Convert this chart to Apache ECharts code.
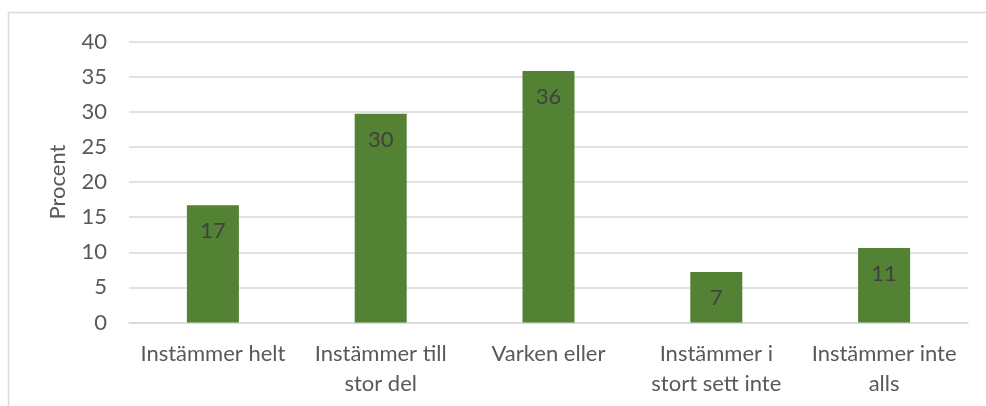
<!DOCTYPE html>
<html>
<head>
<meta charset="utf-8">
<script src="https://cdn.jsdelivr.net/npm/echarts@6/dist/echarts.min.js"></script>
<style>
  html, body { margin: 0; padding: 0; background: #fff; }
  #chart { width: 986px; height: 406px; }
</style>
</head>
<body>
<div id="chart"></div>
<script>
const categories = ['Instämmer helt', 'Instämmer till\nstor del', 'Varken eller', 'Instämmer i\nstort sett inte', 'Instämmer inte\nalls']
const values = [16.7, 29.7, 35.8, 7.2, 10.6]
const axisName = 'Procent'

const myChart = echarts.init(document.getElementById('chart'))
const font = 'Lato, "Liberation Sans", sans-serif'

const option = {
  animation: false,
  textStyle: { fontFamily: font },
  graphic: [{
    type: 'rect',
    shape: { x: 8.5, y: 12.5, width: 1000, height: 500 },
    style: { fill: 'none', stroke: '#d9d9d9', lineWidth: 1.5 },
    silent: true
  }],
  grid: { left: 129, right: 18, top: 41.5, bottom: 83.5 },
  xAxis: {
    type: 'category',
    data: categories,
    axisLine: { lineStyle: { color: '#d9d9d9', width: 1.5 } },
    axisTick: { show: false },
    axisLabel: { color: '#595959', fontSize: 22, lineHeight: 30, margin: 16, interval: 0, fontFamily: font }
  },
  yAxis: {
    type: 'value',
    min: 0,
    max: 40,
    interval: 5,
    name: axisName,
    nameLocation: 'middle',
    nameRotate: 90,
    nameGap: 60,
    nameTextStyle: { color: '#595959', fontSize: 22, fontFamily: font },
    axisLine: { show: false },
    axisTick: { show: false },
    axisLabel: { color: '#595959', fontSize: 22, margin: 22, fontFamily: font },
    splitLine: { lineStyle: { color: '#d9d9d9', width: 1.5 } }
  },
  series: [{
    type: 'bar',
    data: values,
    barWidth: '31%',
    itemStyle: { color: '#548235' },
    label: {
      show: true,
      position: 'insideTop',
      distance: 15,
      color: '#404040',
      fontSize: 22,
      fontFamily: font,
      formatter: function (p) { return Math.round(p.value) }
    }
  }]
}

myChart.setOption(option)
</script>
</body>
</html>
